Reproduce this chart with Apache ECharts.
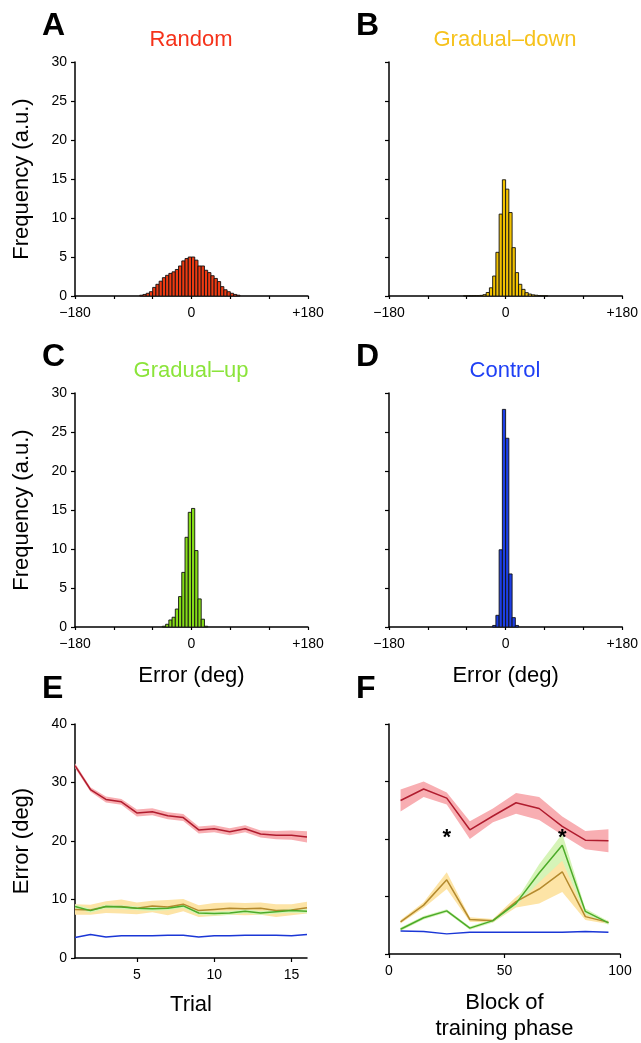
<!DOCTYPE html>
<html><head><meta charset="utf-8">
<script src="https://cdn.jsdelivr.net/npm/echarts@6/dist/echarts.min.js"></script>
<style>html,body{margin:0;padding:0;background:#fff}#c{width:641px;height:1043px}</style>
</head><body><div id="c"></div>
<script>
// ---------- Histogram data (panels A-D) ----------
const binLefts = [-80,-75,-70,-65,-60,-55,-50,-45,-40,-35,-30,-25,-20,-15,-10,-5,0,5,10,15,20,25,30,35,40,45,50,55,60,65,70];
const binWidth = 5;
const freqRandom      = [0.1,0.2,0.35,0.55,1.1,1.5,1.9,2.35,2.65,2.9,3.1,3.4,3.85,4.5,4.8,5.0,5.0,4.6,3.85,3.85,3.3,3.0,2.6,2.25,1.85,1.2,0.8,0.55,0.35,0.2,0.1];
const freqGradualDown = [0,0,0,0.03,0.03,0.03,0.05,0.05,0.08,0.17,0.45,1.05,2.56,5.6,10.5,14.9,13.7,10.7,6.2,3.0,1.5,0.85,0.43,0.25,0.15,0.1,0.05,0.03,0.03,0,0];
const freqGradualUp   = [0,0,0,0,0,0,0,0.1,0.35,0.9,1.25,2.3,3.9,7.0,11.5,14.7,15.2,9.8,3.6,1.0,0.1,0,0,0,0,0,0,0,0,0,0];
const freqControl     = [0,0,0,0,0,0,0,0,0,0,0,0,0.2,1.5,9.9,27.9,24.2,6.8,1.2,0.2,0,0,0,0,0,0,0,0,0,0,0];
const histTicks = [-180,-120,-60,0,60,120,180];
const histLabels = [-180,0,180];

// ---------- Panel E (per trial) ----------
const trials = [1,2,3,4,5,6,7,8,9,10,11,12,13,14,15,16];
const trialTicks = [5,10,15];
const redE    = [32.9,28.8,27.1,26.7,24.8,25.0,24.3,24.0,21.9,22.1,21.6,22.1,21.2,21.0,21.0,20.7];
const redLoE  = [32.5,28.4,26.6,26.2,24.2,24.4,23.7,23.4,21.3,21.5,21.0,21.5,20.6,20.3,20.2,19.75];
const redHiE  = [33.3,29.2,27.6,27.2,25.4,25.6,24.9,24.6,22.5,22.7,22.2,22.7,21.8,21.7,21.8,21.65];
const downE   = [8.3,8.2,8.8,8.8,8.5,8.9,8.7,9.2,8.1,8.3,8.5,8.4,8.5,8.1,8.2,8.6];
const downLoE = [7.4,7.4,7.7,7.6,7.5,7.8,7.3,8.0,7.0,7.2,7.4,7.3,7.4,7.0,7.3,7.6];
const downHiE = [9.2,9.1,9.7,10.0,9.5,9.8,9.9,10.1,9.0,9.4,9.5,9.4,9.5,9.2,9.2,9.6];
const upE     = [8.8,8.1,8.8,8.7,8.5,8.4,8.5,8.9,7.7,7.6,7.7,8.0,7.7,7.9,8.1,8.0];
const upLoE   = [8.45,7.75,8.45,8.35,8.15,8.05,8.15,8.55,7.35,7.25,7.35,7.65,7.35,7.55,7.75,7.65];
const upHiE   = [9.15,8.45,9.15,9.05,8.85,8.75,8.85,9.25,8.05,7.95,8.05,8.35,8.05,8.25,8.45,8.35];
const ctrlE   = [3.5,4.0,3.6,3.8,3.8,3.8,3.9,3.9,3.6,3.8,3.8,3.9,3.9,3.9,3.8,4.0];

// ---------- Panel F (per block) ----------
const blocks  = [5,15,25,35,45,55,65,75,85,95];
const redF    = [26.7,28.7,27.1,21.6,24.0,26.3,25.3,22.2,19.8,19.7];
const redLoF  = [24.8,27.3,26.0,20.0,22.9,24.4,23.3,20.7,18.2,17.7];
const redHiF  = [28.6,30.0,28.1,23.1,25.3,28.0,27.3,23.9,21.4,21.7];
const downF   = [5.6,8.5,12.9,6.0,5.8,9.1,11.3,14.3,6.5,5.5];
const downLoF = [5.3,8.0,11.3,5.6,5.5,8.1,8.8,10.8,5.9,5.2];
const downHiF = [5.9,9.0,14.2,6.4,6.1,9.9,13.0,16.4,7.1,5.8];
const upF     = [4.3,6.3,7.5,4.5,5.8,8.8,14.1,18.9,7.4,5.4];
const upLoF   = [4.0,6.0,7.2,4.2,5.5,8.4,12.5,16.2,6.9,5.1];
const upHiF   = [4.6,6.6,7.8,4.8,6.1,9.2,15.6,20.9,7.9,5.7];
const ctrlF   = [4.0,3.9,3.5,3.8,3.8,3.8,3.8,3.8,3.9,3.8];
const starsF  = [[25,20.9],[75,20.9]];

// ---------- Styles ----------
const FONT = '"Liberation Sans", Arial, Helvetica, sans-serif';
const C = {
  random:'#ee3a12', down:'#f2c200', up:'#86dc18', ctrl:'#1d3fe6',
  randomT:'#f5321a', downT:'#f6c21c', upT:'#8be43a', ctrlT:'#1f40f5',
  redLine:'#b01c2e', redBand:'#f8aeb2',
  downLine:'#b48a2e', downBand:'#fde4a6',
  upLine:'#4cab2a', upBand:'#d6f4b8',
  ctrlLine:'#1a36d6'
};

const chart = echarts.init(document.getElementById('c'), null, {renderer:'canvas'});

const grids = [
  {left:75, top:62, width:233, height:234},
  {left:389, top:62, width:234, height:234},
  {left:75, top:393, width:233, height:234},
  {left:389, top:393, width:234, height:234},
  {left:75, top:724, width:232, height:234},
  {left:389, top:724, width:231, height:234}
];

const axisLine = {onZero:false, lineStyle:{color:'#000', width:1.5}};
const axisTick = {length:4, lineStyle:{color:'#000', width:1.2}};
const lblStyle = {color:'#000', fontSize:14, fontFamily:FONT};
const nameStyle = {color:'#000', fontSize:22, fontFamily:FONT};

function histX(gi, withName) {
  return {
    type:'value', gridIndex:gi, min:-180, max:180,
    axisLine, splitLine:{show:false},
    axisTick:{...axisTick, length:3, customValues:histTicks},
    axisLabel:{...lblStyle, margin:10, customValues:histLabels,
      formatter:v => v < 0 ? '\u2212' + Math.abs(v) : (v > 0 ? '+' + v : '0')},
    name: withName ? 'Error (deg)' : '', nameLocation:'middle', nameGap:38, nameTextStyle:nameStyle
  };
}
function histY(gi, labels) {
  return {
    type:'value', gridIndex:gi, min:0, max:30, interval:5,
    axisLine:{show:true, ...axisLine}, splitLine:{show:false},
    axisTick:{show:true, ...axisTick},
    axisLabel:{...lblStyle, show:labels, margin:8},
    name: labels ? 'Frequency (a.u.)' : '', nameLocation:'middle', nameGap:42, nameTextStyle:nameStyle
  };
}

function histSeries(gi, vals, color) {
  return {
    type:'custom', xAxisIndex:gi, yAxisIndex:gi,
    data: binLefts.map((l,i) => [l, l + binWidth, vals[i]]),
    encode:{x:[0,1], y:2},
    renderItem:(params, api) => {
      const v = api.value(2);
      if (!v) return;
      const p0 = api.coord([api.value(0), v]);
      const p1 = api.coord([api.value(1), 0]);
      return {type:'rect', shape:{x:p0[0], y:p0[1], width:p1[0]-p0[0], height:p1[1]-p0[1]},
        style:{fill:color, stroke:'#111', lineWidth:0.9}};
    },
    z:2
  };
}

function bandSeries(gi, xs, lo, hi, color) {
  return {
    type:'custom', xAxisIndex:gi, yAxisIndex:gi,
    data: xs.map((x,i) => [x, lo[i], hi[i]]),
    encode:{x:0, y:[1,2]},
    renderItem:(params, api) => {
      if (params.dataIndex !== 0) return;
      const pts = [];
      for (let i = 0; i < xs.length; i++) pts.push(api.coord([xs[i], hi[i]]));
      for (let i = xs.length - 1; i >= 0; i--) pts.push(api.coord([xs[i], lo[i]]));
      return {type:'polygon', shape:{points:pts}, style:{fill:color}};
    },
    z:1, silent:true
  };
}

function lineSeries(gi, xs, ys, color) {
  return {
    type:'line', xAxisIndex:gi, yAxisIndex:gi,
    data: xs.map((x,i) => [x, ys[i]]),
    showSymbol:false, symbol:'none',
    lineStyle:{color, width:1.5}, z:3, silent:true
  };
}

const series = [
  histSeries(0, freqRandom, C.random),
  histSeries(1, freqGradualDown, C.down),
  histSeries(2, freqGradualUp, C.up),
  histSeries(3, freqControl, C.ctrl),

  bandSeries(4, trials, redLoE, redHiE, C.redBand),
  bandSeries(4, trials, downLoE, downHiE, C.downBand),
  bandSeries(4, trials, upLoE, upHiE, C.upBand),
  lineSeries(4, trials, redE, C.redLine),
  lineSeries(4, trials, downE, C.downLine),
  lineSeries(4, trials, upE, C.upLine),
  lineSeries(4, trials, ctrlE, C.ctrlLine),

  bandSeries(5, blocks, redLoF, redHiF, C.redBand),
  bandSeries(5, blocks, downLoF, downHiF, C.downBand),
  bandSeries(5, blocks, upLoF, upHiF, C.upBand),
  lineSeries(5, blocks, redF, C.redLine),
  lineSeries(5, blocks, downF, C.downLine),
  lineSeries(5, blocks, upF, C.upLine),
  lineSeries(5, blocks, ctrlF, C.ctrlLine),
  {
    type:'custom', xAxisIndex:5, yAxisIndex:5,
    data: starsF, encode:{x:0, y:1},
    renderItem:(params, api) => {
      const p = api.coord([api.value(0), api.value(1)]);
      return {type:'text', x:p[0], y:p[1] + 4,
        style:{text:'*', fill:'#000', font:'bold 22px ' + FONT, align:'center', verticalAlign:'middle',
               textAlign:'center', textVerticalAlign:'middle'}};
    },
    z:4
  }
];

const xAxes = [
  histX(0,false), histX(1,false), histX(2,true), histX(3,true),
  {type:'value', gridIndex:4, min:1, max:16, axisLine, splitLine:{show:false},
   axisTick:{...axisTick, customValues:trialTicks},
   axisLabel:{...lblStyle, margin:10, customValues:trialTicks},
   name:'Trial', nameLocation:'middle', nameGap:36, nameTextStyle:nameStyle},
  {type:'value', gridIndex:5, min:0, max:100, interval:50, axisLine, splitLine:{show:false},
   axisTick, axisLabel:{...lblStyle, margin:10},
   name:'Block of\ntraining phase', nameLocation:'middle', nameGap:36,
   nameTextStyle:{...nameStyle, lineHeight:26, verticalAlign:'top'}}
];
const yAxes = [
  histY(0,true), histY(1,false), histY(2,true), histY(3,false),
  {type:'value', gridIndex:4, min:0, max:40, interval:10, axisLine:{show:true, ...axisLine}, splitLine:{show:false},
   axisTick:{show:true, ...axisTick}, axisLabel:{...lblStyle, margin:8},
   name:'Error (deg)', nameLocation:'middle', nameGap:42, nameTextStyle:nameStyle},
  {type:'value', gridIndex:5, min:0, max:40, interval:10, axisLine:{show:true, ...axisLine}, splitLine:{show:false},
   axisTick:{show:true, ...axisTick}, axisLabel:{show:false}}
];

function txt(text, x, y, color, size, bold, align) {
  return {type:'text', x, y, silent:true,
    style:{text, fill:color, font:(bold ? 'bold ' : '') + size + 'px ' + FONT,
      align:align || 'center', verticalAlign:'middle',
      textAlign:align || 'center', textVerticalAlign:'middle'}};
}

const graphic = [
  txt('A', 42, 26, '#000', 32, true, 'left'),
  txt('B', 356, 26, '#000', 32, true, 'left'),
  txt('C', 42, 357, '#000', 32, true, 'left'),
  txt('D', 356, 357, '#000', 32, true, 'left'),
  txt('E', 42, 689, '#000', 32, true, 'left'),
  txt('F', 356, 689, '#000', 32, true, 'left'),
  txt('Random', 191, 40, C.randomT, 22, false),
  txt('Gradual\u2013down', 505, 40, C.downT, 22, false),
  txt('Gradual\u2013up', 191, 371, C.upT, 22, false),
  txt('Control', 505, 371, C.ctrlT, 22, false)
];

chart.setOption({
  animation:false,
  backgroundColor:'#fff',
  grid:grids,
  xAxis:xAxes,
  yAxis:yAxes,
  series,
  graphic
});
</script>
</body></html>
